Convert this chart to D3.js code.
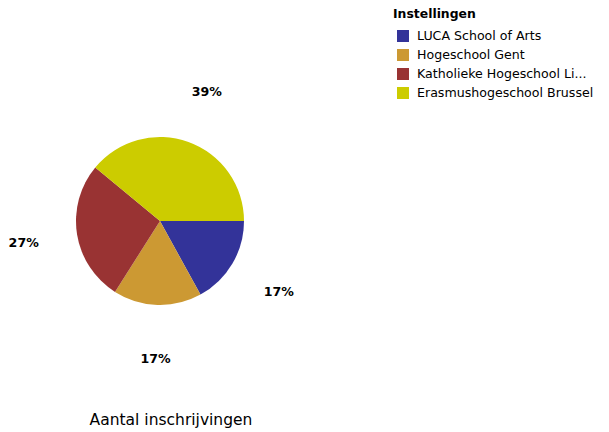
<!DOCTYPE html>
<html><head><meta charset="utf-8">
<script src="https://cdn.jsdelivr.net/npm/d3@7"></script>
<style>body{margin:0;background:#fff}svg{display:block}text{font-family:"DejaVu Sans",Verdana,sans-serif;fill:#000}</style>
</head><body>
<svg id="c" width="609" height="432"></svg>
<script>
const categories = ["LUCA School of Arts","Hogeschool Gent","Katholieke Hogeschool Li...","Erasmushogeschool Brussel"];
const values = [17, 17, 27, 39];
const colors = ["#333399","#CC9933","#993333","#CCCC00"];
const legendTitle = "Instellingen";
const chartTitle = "Aantal inschrijvingen";

const svg = d3.select("#c");
const cx = 160, cy = 221, R = 84, labelR = 138;
const data = categories.map((c,i)=>({name:c, value:values[i], color:colors[i]}));
const total = d3.sum(values);
const pie = d3.pie().value(d=>d.value).sort(null)
  .startAngle(Math.PI/2).endAngle(Math.PI/2 + 2*Math.PI);
const arcs = pie(data);
const arc = d3.arc().innerRadius(0).outerRadius(R);
const labelArc = d3.arc().innerRadius(labelR).outerRadius(labelR);
const g = svg.append("g").attr("transform",`translate(${cx},${cy})`);
g.selectAll("path").data(arcs).join("path").attr("d",arc).attr("fill",d=>d.data.color);
g.selectAll("text").data(arcs).join("text")
  .attr("transform",d=>`translate(${labelArc.centroid(d)})`)
  .attr("text-anchor","middle").attr("dy","0.35em")
  .style("font-size","12.6px").style("font-weight","600")
  .text(d=>Math.round(d.data.value/total*100)+"%");

svg.append("text").attr("x",171).attr("y",425).attr("text-anchor","middle")
  .style("font-size","15.5px").text(chartTitle);

const lg = svg.append("g").attr("transform","translate(393,0)");
lg.append("text").attr("x",0).attr("y",18).style("font-size","12.4px").style("font-weight","bold").text(legendTitle);
const rows = lg.selectAll("g.r").data(data).join("g").attr("class","r")
  .attr("transform",(d,i)=>`translate(0,${36 + i*19})`);
rows.append("rect").attr("x",4).attr("y",-6).attr("width",12).attr("height",12).attr("fill",d=>d.color);
rows.append("text").attr("x",24).attr("dy","0.35em").style("font-size","12.6px").text(d=>d.name);
</script>
</body></html>
